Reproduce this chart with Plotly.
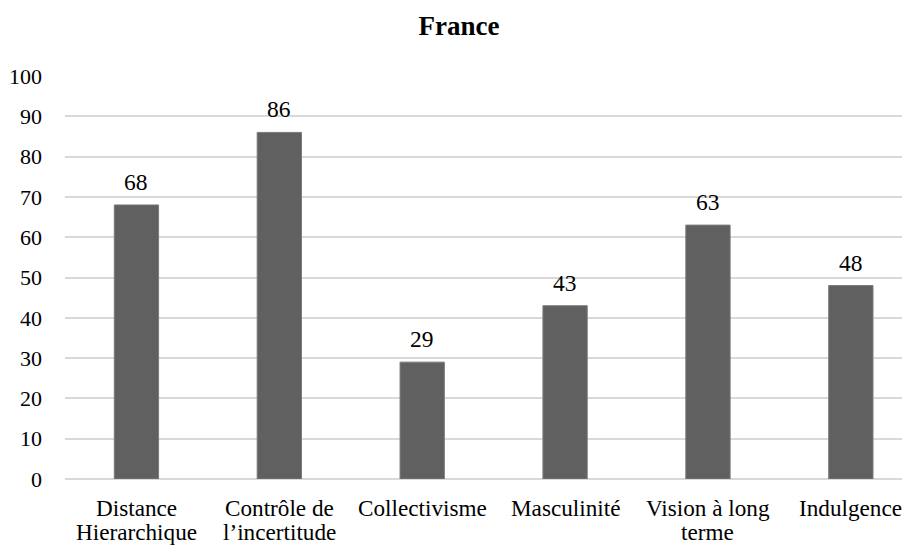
import plotly.graph_objects as go

categories = ["Distance<br>Hierarchique", "Contrôle de<br>l’incertitude", "Collectivisme",
              "Masculinité", "Vision à long<br>terme", "Indulgence"]
values = [68, 86, 29, 43, 63, 48]
title_text = "France"
y_ticks = list(range(0, 101, 10))

FONT = "Liberation Serif"

fig = go.Figure()
fig.add_trace(go.Bar(
    x=list(range(len(categories))), y=values,
    marker=dict(color="#606060", line=dict(color="#7a7a7a", width=1)),
    width=0.31, hoverinfo="skip",
))
# value labels
for i, v in enumerate(values):
    fig.add_annotation(x=i, y=v, text=str(v), showarrow=False, yanchor="middle",
                       yshift=23, font=dict(family=FONT, size=23.5, color="#000000"))
# category labels (one annotation per line for tighter line spacing)
for i, cat in enumerate(categories):
    for j, line in enumerate(cat.split("<br>")):
        fig.add_annotation(x=i, y=0, xref="x", yref="y", text=line, showarrow=False,
                           yanchor="middle", yshift=-29 - 24 * j,
                           font=dict(family=FONT, size=23.2, color="#000000"))

fig.update_layout(
    width=902, height=537,
    margin=dict(l=57, r=2, t=68, b=66),
    paper_bgcolor="white", plot_bgcolor="white",
    showlegend=False,
    title=dict(text="<b>" + title_text + "</b>", x=0.5, xanchor="center", y=0.9665, yanchor="middle",
               font=dict(family=FONT, size=27, color="#000000")),
    font=dict(family=FONT, size=22, color="#000000"),
)
fig.update_xaxes(
    tickmode="array", tickvals=list(range(len(categories))),
    range=[-0.5, 5.4], showgrid=False, zeroline=False, showline=False,
    ticks="", showticklabels=False, automargin=False,
)
fig.update_yaxes(
    range=[0, 100], tickmode="array", tickvals=y_ticks,
    showgrid=True, gridcolor="#d9d9d9", gridwidth=1.5,
    zeroline=True, zerolinecolor="#d9d9d9", zerolinewidth=1.5,
    showline=False, ticks="", ticklabelstandoff=22, automargin=False,
    tickfont=dict(family=FONT, size=22, color="#000000"),
)
fig.write_html("out.html")
